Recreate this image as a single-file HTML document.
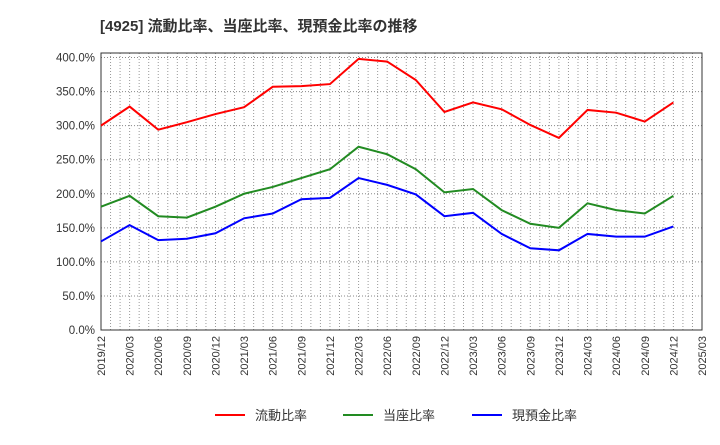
<!DOCTYPE html>
<html><head><meta charset="utf-8"><style>
body{margin:0;background:#fff;font-family:"Liberation Sans","Noto Sans CJK JP",sans-serif;}
</style></head><body>
<svg id="c" width="720" height="440" xmlns="http://www.w3.org/2000/svg" font-family="Liberation Sans, Noto Sans CJK JP, sans-serif">
<text x="100" y="31" font-size="15" font-weight="bold" fill="#333">[4925]  流動比率、当座比率、現預金比率の推移</text>
<g id="grid"></g><g id="axes"></g><g id="series"></g><g id="legend"></g>
</svg>
<script>
const categories=["2019/12","2020/03","2020/06","2020/09","2020/12","2021/03","2021/06","2021/09","2021/12","2022/03","2022/06","2022/09","2022/12","2023/03","2023/06","2023/09","2023/12","2024/03","2024/06","2024/09","2024/12","2025/03"];
const currentRatio=[300,328,294,305,317,327,357,358,361,398,394,367,320,334,324,301,282,323,319,306,334];
const quickRatio=[181,197,167,165,181,200,210,223,236,269,258,236,202,207,176,156,150,186,176,171,197];
const cashRatio=[130,154,132,134,142,164,171,192,194,223,213,199,167,172,141,120,117,141,137,137,152];
const yTicks=[0,50,100,150,200,250,300,350,400];
const seriesNames=["流動比率","当座比率","現預金比率"];
const colors=["#ff0000","#228b22","#0000ff"];
const NS="http://www.w3.org/2000/svg";
const L=101,R=702,T=53,B=330;
const x=i=>L+(R-L)*i/(categories.length-1);
const y=v=>B-(B-57.5)*v/400;
function mk(p,t,a){const e=document.createElementNS(NS,t);for(const k in a)e.setAttribute(k,a[k]);p.appendChild(e);return e;}
const g=document.getElementById('grid'),ax=document.getElementById('axes'),s=document.getElementById('series'),lg=document.getElementById('legend');
const months=(categories.length-1)*3;
for(let m=1;m<months;m++){const xx=L+(R-L)*m/months;
const e=mk(g,'line',{x1:xx,x2:xx,y1:T,y2:B,stroke:'#999','stroke-dasharray':'1,2','stroke-width':1});
}
yTicks.forEach(v=>{if(v>0){const e=mk(g,'line',{x1:L,x2:R,y1:y(v),y2:y(v),stroke:'#888','stroke-dasharray':'1,2'});
}
const t=mk(ax,'text',{x:L-6,y:y(v)+4,'text-anchor':'end','font-size':11.5,fill:'#333'});t.textContent=v.toFixed(1)+'%';
});
const fr=mk(ax,'rect',{x:L,y:T,width:R-L,height:B-T,fill:'none',stroke:'#333'});

categories.forEach((c,i)=>{const t=mk(ax,'text',{x:0,y:0,'text-anchor':'end','font-size':11,fill:'#333',transform:`translate(${x(i)+4},${B+6}) rotate(-90)`});t.textContent=c;
});
[currentRatio,quickRatio,cashRatio].forEach((d,k)=>{const p=mk(s,'polyline',{points:d.map((v,i)=>x(i)+','+y(v)).join(' '),fill:'none',stroke:colors[k],'stroke-width':2});
});
const lx=[215,343,472];
seriesNames.forEach((n,k)=>{const gg=mk(lg,'g',{});
mk(gg,'line',{x1:lx[k],x2:lx[k]+30,y1:415,y2:415,stroke:colors[k],'stroke-width':2});
const t=mk(gg,'text',{x:lx[k]+40,y:420,'font-size':13,fill:'#333'});t.textContent=n;});
</script>
</body></html>
